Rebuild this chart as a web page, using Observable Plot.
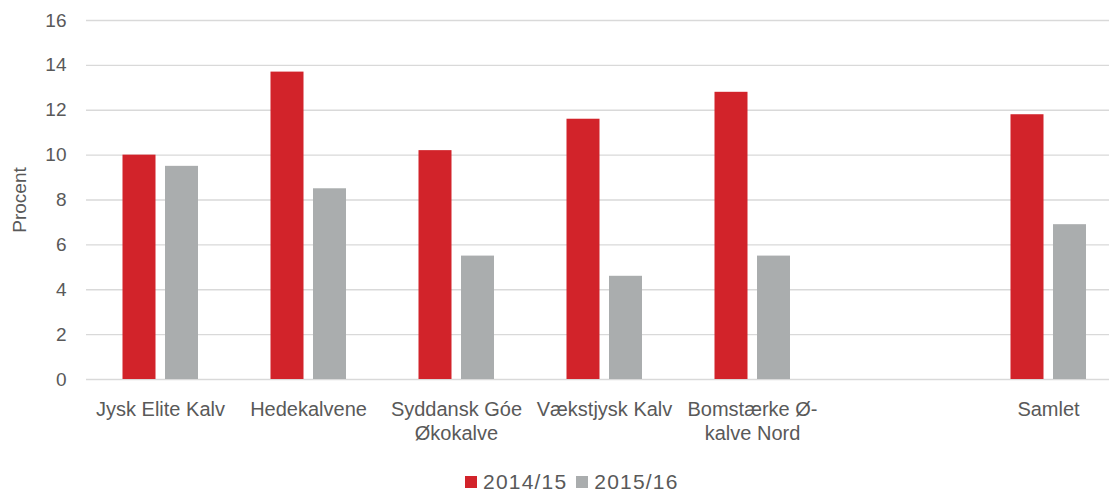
<!DOCTYPE html>
<html><head><meta charset="utf-8">
<script src="https://cdn.jsdelivr.net/npm/d3@7"></script>
<script src="https://cdn.jsdelivr.net/npm/@observablehq/plot@0.6"></script>
<style>
body{margin:0;background:#fff;font-family:"Liberation Sans",Arial,sans-serif;overflow:hidden;width:1109px;height:495px;position:relative}
#legend{position:absolute;left:465px;top:472px;height:20px;display:flex;align-items:center;font-size:21px;letter-spacing:1.2px;color:#595959;line-height:20px}
#legend .item{display:flex;align-items:center;margin-right:9px}
#legend .sw{width:12px;height:12px;margin-right:6px;display:inline-block}
</style></head><body><div id="chart"></div><div id="legend"></div><script>
const categories = ["Jysk Elite Kalv","Hedekalvene","Syddansk Góe\nØkokalve","Vækstjysk Kalv","Bomstærke Ø-\nkalve Nord"," ","Samlet"];
const series = ["2014/15","2015/16"];
const values2014 = [10.0,13.7,10.2,11.6,12.8,null,11.8];
const values2015 = [9.5,8.5,5.5,4.6,5.5,null,6.9];
const yTicks = [0,2,4,6,8,10,12,14,16];
const colors = ["#D2232A","#AAADAE"];

const rows = (vals, s) => categories.map((c,i)=>({cat:c, series:s, value:vals[i]})).filter(d=>d.value!=null);
const d1 = rows(values2014, series[0]);
const d2 = rows(values2015, series[1]);

const chart = Plot.plot({
  width:1109, height:450,
  marginLeft:86, marginRight:0, marginTop:20, marginBottom:71,
  style:{fontSize:"20px", fontFamily:'"Liberation Sans",Arial,sans-serif', color:"#595959", background:"#fff"},
  x:{domain:categories, range:[86,1122], padding:0},
  y:{domain:[0,16]},
  marks:[
    Plot.gridY(yTicks,{stroke:"#d9d9d9", strokeOpacity:1, strokeWidth:1.3}),
    Plot.barY(d1,{x:"cat", y:"value", fill:colors[0], insetLeft:36.5, insetRight:78.5}),
    Plot.barY(d2,{x:"cat", y:"value", fill:colors[1], insetLeft:79, insetRight:36}),
    Plot.axisY({ticks:yTicks, tickSize:0, tickPadding:20, fontSize:19, label:"Procent", labelAnchor:"center", labelArrow:"none", labelOffset:74}),
    Plot.axisX({tickSize:0, tickPadding:19, fontSize:20, lineHeight:1.2, label:null})
  ]
});
document.getElementById("chart").append(chart);

const leg = d3.select("#legend");
series.forEach((s,i)=>{
  const it = leg.append("div").attr("class","item");
  it.append("span").attr("class","sw").style("background",colors[i]);
  it.append("span").text(s);
});
</script></body></html>
